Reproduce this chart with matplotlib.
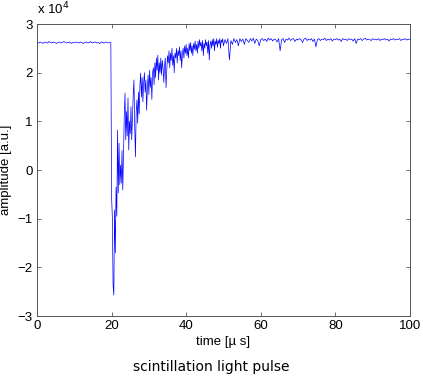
import numpy as np
import matplotlib
matplotlib.use("Agg")
import matplotlib.pyplot as plt

# amplitude values in units of 1e4
pre_values = [2.62,2.61,2.63,2.62,2.60,2.63,2.62,2.61,2.64,2.62,
              2.61,2.63,2.62,2.60,2.62,2.63,2.61,2.62,2.64,2.62,
              2.61,2.62,2.63,2.60,2.62,2.61,2.63,2.62,2.61,2.63,
              2.62,2.60,2.62,2.63,2.61,2.62,2.64,2.61,2.62,2.63,
              2.61,2.62,2.60,2.63,2.62,2.61,2.63,2.62,2.61,2.62]
pre_t0, pre_dt = 0.0, 0.4

pulse_values = [2.62,-0.55,-0.97,-2.36,-2.57,-0.82,-1.70,-0.35,-0.95,0.82,
                -0.47,0.55,-0.30,0.10,-0.27,0.40,-0.41,0.30,1.10,1.58,
                0.62,1.20,0.70,1.48,0.41,1.00,0.75,1.30,0.62,1.10,
                1.55,1.85,0.90,0.27,1.20,1.44,0.96,1.60,1.15,1.75,
                1.99,1.50,1.90,1.40,1.80,2.00,1.60,1.85,1.23,1.70,
                1.95,1.55,2.05,1.70,1.90,1.45,2.00,2.10,1.75,2.20,
                1.90,2.30,2.05,2.36,1.85,2.20,2.00,2.30,1.95,2.25,
                2.10,1.80,2.15,2.30,1.69,2.05,2.35,2.20,2.45,2.10,
                2.40,2.25,2.50,2.15,2.35,2.00,2.40,2.30,2.50,2.20,
                2.45,2.35,2.53,2.25,2.45,2.10,2.40,2.50,2.30,2.55,
                2.40,2.58,2.35,2.50,2.30,2.60,2.45,2.62,2.40,2.55,
                2.35,2.60,2.48,2.65,2.45,2.58,2.40,2.65,2.50,2.68,
                2.55,2.62,2.45,2.66,2.35,2.60,2.50,2.68,2.55,2.63,
                2.40,2.66,2.26,2.58,2.65,2.50,2.68,2.55,2.70,2.45,
                2.65,2.58,2.70,2.52,2.66,2.60,2.70,2.50,2.67,2.62,
                2.70,2.55]
pulse_t0, pulse_dt = 19.8, 0.2

post_values = [2.68,2.60,2.70,2.26,2.66,2.58,2.70,2.62,2.68,2.55,
               2.70,2.64,2.69,2.58,2.70,2.66,2.62,2.70,2.65,2.71,
               2.60,2.69,2.66,2.55,2.68,
               2.70,2.66,2.69,2.64,2.71,2.67,2.70,2.65,2.69,2.68,
               2.63,2.70,2.45,2.68,2.70,2.62,2.69,2.67,2.71,2.66,
               2.69,2.70,2.64,2.69,2.67,
               2.70,2.68,2.62,2.69,2.71,2.66,2.69,2.67,2.70,2.64,
               2.69,2.53,2.68,2.70,2.66,2.69,2.68,2.71,2.66,2.69,
               2.67,2.70,2.65,2.69,2.68,
               2.70,2.67,2.69,2.64,2.70,2.68,2.69,2.66,2.70,2.68,
               2.69,2.65,2.70,2.60,2.69,2.68,2.70,2.66,2.69,2.71,
               2.67,2.69,2.68,2.66,2.70,
               2.68,2.69,2.67,2.70,2.66,2.69,2.68,2.70,2.67,2.69,
               2.65,2.69,2.68,2.70,2.67,2.69,2.68,2.70,2.66,2.69,
               2.68,2.70,2.67,2.69,2.68]
post_t0, post_dt = 50.4, 0.4

x_ticks = [0, 20, 40, 60, 80, 100]
y_ticks = [-3, -2, -1, 0, 1, 2, 3]

t = np.concatenate([pre_t0 + pre_dt * np.arange(len(pre_values)),
                    pulse_t0 + pulse_dt * np.arange(len(pulse_values)),
                    post_t0 + post_dt * np.arange(len(post_values))])
v = np.concatenate([pre_values, pulse_values, post_values])

plt.rcParams['font.family'] = ['Liberation Sans', 'DejaVu Sans']
fig = plt.figure(figsize=(4.23, 3.78), dpi=100)
ax = fig.add_axes([0.0875, 0.164, 0.8815, 0.7725])
ax.plot(t, v, color=(0, 0, 1), linewidth=0.5)
ax.set_xlim(0, 100)
ax.set_ylim(-3, 3)
ax.set_xticks(x_ticks)
ax.set_yticks(y_ticks)
ax.tick_params(direction='in', top=True, right=True, labelsize=9.5,
               length=3, width=0.6, color='#555555', pad=3)
for s in ax.spines.values():
    s.set_color('#555555')
    s.set_linewidth(0.7)
ax.set_xlabel('time [µ s]', fontsize=9.5, labelpad=3)
ax.set_ylabel('amplitude [a.u.]', fontsize=9.5)
ax.yaxis.set_label_coords(-0.068, 0.5)
fig.text(0.0875, 0.955, r'x 10$^{4}$', fontsize=9.5, ha='left', va='bottom')
fig.text(0.5, 0.03, 'scintillation light pulse', fontsize=10,
         ha='center', va='center', family='DejaVu Sans')
fig.savefig('out.png', dpi=100)
